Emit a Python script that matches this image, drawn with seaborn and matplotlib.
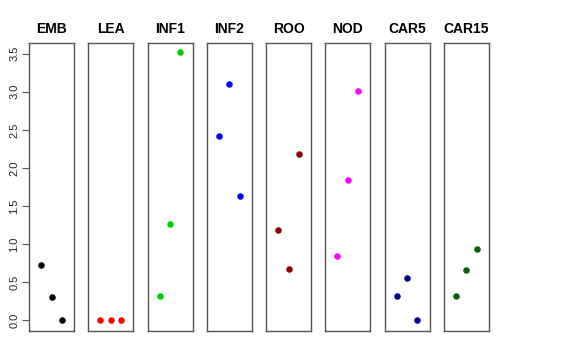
import pandas as pd
import matplotlib
matplotlib.use('Agg')
import matplotlib.pyplot as plt
import seaborn as sns

sns.set_style('white')
plt.rcParams['font.family'] = ['Liberation Sans', 'DejaVu Sans']

tissues = ['EMB', 'LEA', 'INF1', 'INF2', 'ROO', 'NOD', 'CAR5', 'CAR15']
colors = ['black', 'red', '#00CD00', 'blue', '#8B0000', 'magenta', '#00008B', '#006400']
reps = [1, 2, 3]
emb = [0.73, 0.31, 0.0]
lea = [0.0, 0.0, 0.0]
inf1 = [0.32, 1.27, 3.52]
inf2 = [2.42, 3.10, 1.63]
roo = [1.18, 0.67, 2.18]
nod = [0.85, 1.84, 3.01]
car5 = [0.32, 0.56, 0.0]
car15 = [0.32, 0.66, 0.93]
values = [emb, lea, inf1, inf2, roo, nod, car5, car15]

rows = []
for t, v in zip(tissues, values):
    for r, y in zip(reps, v):
        rows.append({'tissue': t, 'rep': r, 'value': y})
df = pd.DataFrame(rows)

fig = plt.figure(figsize=(5.76, 3.6), dpi=100)
W, H = 576, 360
left0, pw, step = 29, 45, 59.25
top, bottom = 43, 331

for i, (t, c) in enumerate(zip(tissues, colors)):
    x0 = left0 + i * step
    ax = fig.add_axes([x0 / W, 1 - bottom / H, pw / W, (bottom - top) / H])
    sub = df[df['tissue'] == t]
    sns.scatterplot(data=sub, x='rep', y='value', color=c, s=22, linewidth=0, ax=ax)
    ax.set_xlim(-0.16, 4.16)
    ax.set_ylim(-0.14, 3.64)
    ax.set_xticks([])
    ax.set_xlabel('')
    ax.set_ylabel('')
    ax.set_title(t, fontsize=10, fontweight='bold', pad=7, color='black')
    for sp in ax.spines.values():
        sp.set_color('#555555')
        sp.set_linewidth(1)
    if i == 0:
        ax.set_yticks([0, 0.5, 1, 1.5, 2, 2.5, 3, 3.5])
        ax.set_yticklabels(['0.0', '0.5', '1.0', '1.5', '2.0', '2.5', '3.0', '3.5'],
                           rotation=90, va='center', fontsize=8, color='#222222')
        ax.tick_params(axis='y', left=True, length=5, width=0.8, color='#555555', pad=2)
    else:
        ax.set_yticks([])

fig.savefig('out.png', dpi=100)
